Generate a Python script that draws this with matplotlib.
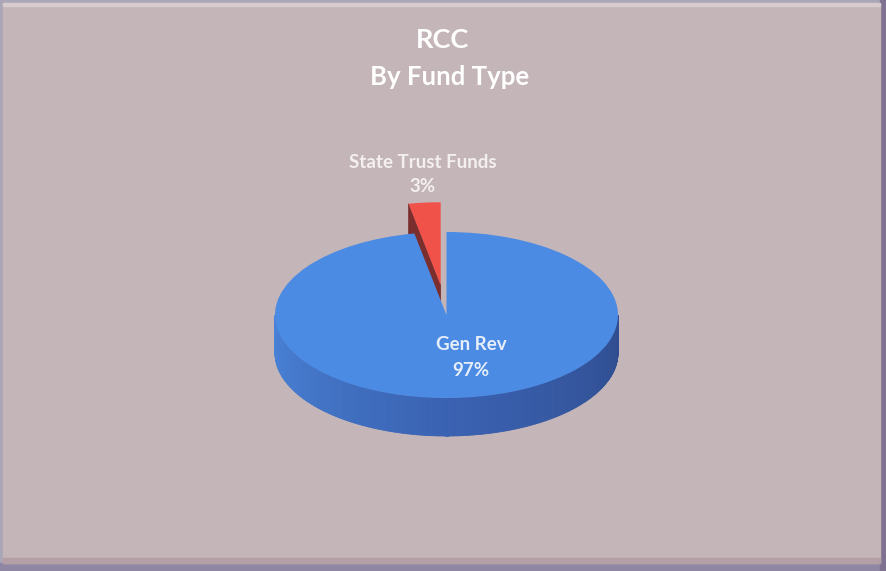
import numpy as np
import matplotlib
matplotlib.use("Agg")
import matplotlib.pyplot as plt
from matplotlib.patches import Rectangle, Polygon
from matplotlib.transforms import Affine2D
from matplotlib.colors import to_rgb

# ---- data -------------------------------------------------------------
categories = ["Gen Rev", "State Trust Funds"]
values = [97, 3]
title_lines = ["RCC", "By Fund Type"]

# ---- styling ------------------------------------------------------------
W, H = 886, 571
top_colors = ["#4C8BE3", "#F0524A"]
side_colors = [("#4A84D8", "#3A62B2", "#2F4C8E"), ("#7A2E2E", "#7A2E2E", "#7A2E2E")]
explode = [0.0, 0.36]
cx, cy = 446.5, 315.0      # pie centre (pixels from top-left)
rx, ry = 171.5, 83.0       # top-face radii
depth = 38.0

fig = plt.figure(figsize=(W / 100, H / 100), dpi=100)
fig.patch.set_facecolor("#B8AEB8")
ax = fig.add_axes([0, 0, 1, 1])
ax.set_axis_off()


def Y(p):
    return H - p


# ---- frame ---------------------------------------------------------------
ax.add_patch(Rectangle((0, Y(571)), 886, 571, color="#A9A6B6", zorder=0))
ax.add_patch(Rectangle((0, Y(571)), 886, 8, color="#8E86A2", zorder=0.1))
ax.add_patch(Rectangle((880, Y(571)), 6, 571, color="#7F7290", zorder=0.1))
ax.add_patch(Rectangle((3, Y(563)), 877, 560, color="#C4B5B8", zorder=0.2))
ax.add_patch(Rectangle((3, Y(6)), 877, 3, color="#D8CBCD", zorder=0.3))
ax.add_patch(Rectangle((3, Y(563)), 877, 5, color="#B49FA6", zorder=0.3))

# ---- pie geometry --------------------------------------------------------
fracs = np.array(values, dtype=float) / np.sum(values)
bounds = 90 - 360 * np.concatenate([[0], np.cumsum(fracs)])


def to_px(u, v, ox, oy, drop=0.0):
    """unit-circle coords -> axes data coords"""
    return cx + rx * (u + ox), Y(cy + drop) + ry * (v + oy)


def lerp3(c, t):
    c0, c1, c2 = (np.array(to_rgb(k)) for k in c)
    if t < 0.5:
        return c0 + (c1 - c0) * (t / 0.5)
    return c1 + (c2 - c1) * ((t - 0.5) / 0.5)


def draw_side(a0, a1, ox, oy, cols, z):
    # visible outer wall lies between 180 and 360 degrees
    lo = max(a0, 180.0)
    hi = min(a1, 360.0)
    if hi <= lo:
        return
    angs = np.linspace(lo, hi, 240)
    for t0, t1 in zip(angs[:-1], angs[1:]):
        r0, r1 = np.radians(t0), np.radians(t1)
        xa, ya = to_px(np.cos(r0), np.sin(r0), ox, oy)
        xb, yb = to_px(np.cos(r1), np.sin(r1), ox, oy)
        col = lerp3(cols, ((t0 + t1) / 2 - 180) / 180)
        ax.add_patch(Polygon([(xa, ya), (xb, yb), (xb, yb - depth), (xa, ya - depth)],
                             closed=True, facecolor=col, edgecolor=col, lw=0.6, zorder=z))


def draw_cut(a, normal, ox, oy, col, z):
    if np.sin(np.radians(normal)) >= 0:
        return
    r = np.radians(a)
    xc, yc = to_px(0, 0, ox, oy)
    xr, yr = to_px(np.cos(r), np.sin(r), ox, oy)
    ax.add_patch(Polygon([(xc, yc), (xr, yr), (xr, yr - depth), (xc, yc - depth)],
                         closed=True, facecolor=col, edgecolor=col, lw=0.5, zorder=z))


# walls, drawn back (exploded slice) to front
order = [1, 0]
for k, i in enumerate(order):
    a1, a0 = bounds[i], bounds[i + 1]          # clockwise slice: a0 < a1
    mid = np.radians((a0 + a1) / 2)
    ox, oy = explode[i] * np.cos(mid), explode[i] * np.sin(mid)
    z = 1 + 2 * k
    draw_cut(a1, a1 + 90, ox, oy, side_colors[i][1], z)
    draw_cut(a0, a0 - 90, ox, oy, side_colors[i][1], z)
    # wall along the rim, unwrapped into [0, 360)
    s0, s1 = a0 % 360, (a0 % 360) + (a1 - a0)
    draw_side(s0, s1, ox, oy, side_colors[i], z)
    draw_side(s0 - 360, s1 - 360, ox, oy, side_colors[i], z)

# top faces via pie, squashed into an ellipse
wedges, _ = ax.pie(values, startangle=90, counterclock=False, explode=explode,
                   colors=top_colors, radius=1, center=(0, 0),
                   wedgeprops=dict(linewidth=0))
squash = Affine2D().scale(rx, ry).translate(cx, Y(cy)) + ax.transData
for i, w in enumerate(wedges):
    w.set_transform(squash)
    w.set_zorder(2 + 2 * order.index(i))

ax.set_aspect("auto")
ax.set_xlim(0, W)
ax.set_ylim(0, H)

# ---- text ----------------------------------------------------------------
font = "Lato"
ax.text(443, Y(40), title_lines[0], ha="center", va="center", color="white",
        fontsize=19.5, fontweight="bold", family=font, zorder=10)
ax.text(450, Y(77), title_lines[1], ha="center", va="center", color="white",
        fontsize=18.5, fontweight="bold", family=font, zorder=10)

pct = [f"{round(f * 100)}%" for f in fracs]
label_pos = [(471, 345, 370), (423, 163, 186)]
for i, (lx, ly1, ly2) in enumerate(label_pos):
    col = "#E6EEFA" if i == 0 else "#F4F0F0"
    ax.text(lx, Y(ly1), categories[i], ha="center", va="center", color=col,
            fontsize=13.5, fontweight="bold", family=font, zorder=10)
    ax.text(lx, Y(ly2), pct[i], ha="center", va="center", color=col,
            fontsize=13.5, fontweight="bold", family=font, zorder=10)

fig.savefig("out.png", dpi=100, facecolor=fig.get_facecolor())
